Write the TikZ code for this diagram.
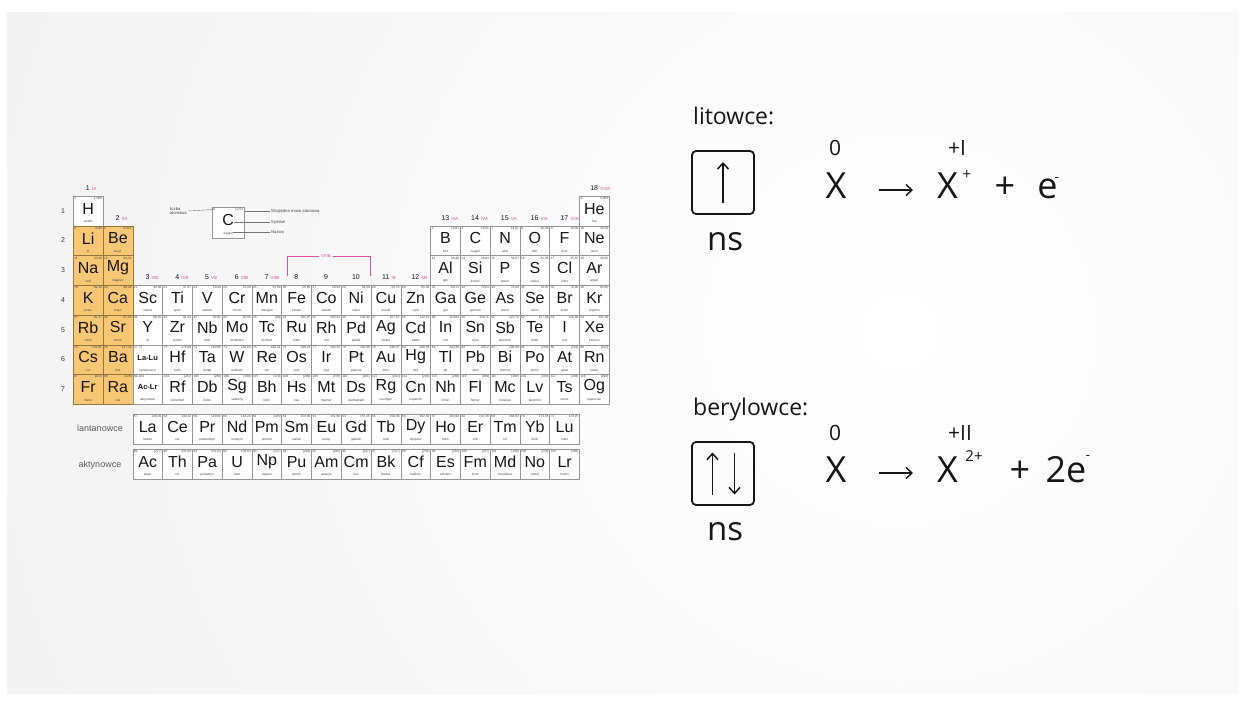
\documentclass[tikz,border=0pt]{standalone}
\usepackage{fontspec}
\setmainfont{Open Sans}
\newfontfamily\tabfont{Liberation Sans}
\usetikzlibrary{arrows.meta,calc}
\definecolor{bggray}{RGB}{236,236,236}
\definecolor{alk}{RGB}{247,199,115}
\definecolor{alkline}{RGB}{150,118,64}
\definecolor{grp}{RGB}{222,80,160}
\definecolor{cellline}{RGB}{150,150,150}
\definecolor{ink}{RGB}{22,22,22}
\tikzset{
  elcell/.style={draw=cellline, line width=0.5pt, fill=white, minimum width=29.78pt, minimum height=29.7pt, inner sep=0pt, anchor=north west},
  alkcell/.style={elcell, fill=alk, draw=alkline},
  elsym/.style={font=\tabfont\fontsize{16}{16}\selectfont, inner sep=0pt, text=ink},
  elsymb/.style={font=\tabfont\bfseries\fontsize{7.5}{7.5}\selectfont, inner sep=0pt, text=ink},
  elnum/.style={font=\tabfont\fontsize{3.2}{3.2}\selectfont, inner sep=0pt, text=ink!80},
  elname/.style={font=\tabfont\fontsize{3.2}{3.2}\selectfont, inner sep=0pt, text=ink!80},
  grpnum/.style={font=\tabfont\fontsize{7}{7}\selectfont, inner sep=0pt, text=ink, anchor=base},
  grprom/.style={font=\tabfont\fontsize{4.5}{4.5}\selectfont, inner sep=0pt, text=grp},
  rownum/.style={font=\tabfont\fontsize{7}{7}\selectfont, inner sep=0pt, text=ink!85},
  legtxt/.style={font=\tabfont\fontsize{4.2}{4.4}\selectfont, inner sep=0pt, text=ink!80},
  legline/.style={draw=ink!60, line width=0.4pt},
  ftxt/.style={font=\tabfont\fontsize{9}{9}\selectfont, inner sep=0pt, text=ink!70},
  lbltxt/.style={font=\fontsize{23}{23}\selectfont, inner sep=0pt, text=ink, anchor=base west},
  bigtxt/.style={font=\fontsize{36}{36}\selectfont, inner sep=0pt, text=ink, anchor=base},
  nstxt/.style={font=\fontsize{33}{33}\selectfont, inner sep=0pt, text=ink, anchor=base},
  oxtxt/.style={font=\fontsize{21}{21}\selectfont, inner sep=0pt, text=ink, anchor=base},
  suptxt/.style={font=\fontsize{15}{15}\selectfont, inner sep=0pt, text=ink},
  orbbox/.style={draw=ink, line width=1.8pt, rounded corners=4pt, minimum width=62pt, minimum height=63pt, inner sep=0pt},
  spinarr/.style={draw=ink, line width=1.5pt, -{Straight Barb[length=6pt,width=11pt,line width=1.5pt]}},
  reacarr/.style={draw=ink, line width=1.4pt, -{Straight Barb[length=6pt,width=11pt,line width=1.4pt]}},
}
\newcommand{\pelem}[7]{%
  \node[#3] (c-#5) at ({#1},{#2}) {};
  \node[elsym] (s-#5) at ([yshift=2.5pt]c-#5.center) {#5};
  \node[elnum,anchor=north west] (z-#5) at ([shift={(1.2pt,-1.2pt)}]c-#5.north west) {#4};
  \node[elnum,anchor=north east] (m-#5) at ([shift={(-1.2pt,-1.2pt)}]c-#5.north east) {#7};
  \node[elname] (n-#5) at ([yshift=4.5pt]c-#5.south) {#6};
}
\begin{document}
\begin{tikzpicture}[x=1pt,y=-1pt]
\useasboundingbox (0,0) rectangle (1245,706);
\fill[white] (0,0) rectangle (1245,706);
\begin{scope}
  \clip (7,13) rectangle (1238,693);
  \fill[bggray] (7,13) rectangle (1238,693);
  \shade[inner color=white, outer color=bggray] (900,330) circle (1500);
\end{scope}

% ---------- periodic table: main block ----------
\foreach \c/\r/\z/\s/\n/\m in {
 1/1/1/H/wodór/{1,008}, 18/1/2/He/hel/{4,003},
 13/2/5/B/bor/{10,81}, 14/2/6/C/węgiel/{12,01}, 15/2/7/N/azot/{14,01}, 16/2/8/O/tlen/{16,00}, 17/2/9/F/fluor/{19,00}, 18/2/10/Ne/neon/{20,18},
 13/3/13/Al/glin/{26,98}, 14/3/14/Si/krzem/{28,09}, 15/3/15/P/fosfor/{30,97}, 16/3/16/S/siarka/{32,06}, 17/3/17/Cl/chlor/{35,45}, 18/3/18/Ar/argon/{39,95},
 3/4/21/Sc/skand/{44,96}, 4/4/22/Ti/tytan/{47,87}, 5/4/23/V/wanad/{50,94}, 6/4/24/Cr/chrom/{52,00}, 7/4/25/Mn/mangan/{54,94}, 8/4/26/Fe/żelazo/{55,85}, 9/4/27/Co/kobalt/{58,93}, 10/4/28/Ni/nikiel/{58,69}, 11/4/29/Cu/miedź/{63,55}, 12/4/30/Zn/cynk/{65,38}, 13/4/31/Ga/gal/{69,72}, 14/4/32/Ge/german/{72,63}, 15/4/33/As/arsen/{74,92}, 16/4/34/Se/selen/{78,97}, 17/4/35/Br/brom/{79,90}, 18/4/36/Kr/krypton/{83,80},
 3/5/39/Y/itr/{88,91}, 4/5/40/Zr/cyrkon/{91,22}, 5/5/41/Nb/niob/{92,91}, 6/5/42/Mo/molibden/{95,95}, 7/5/43/Tc/technet/[98], 8/5/44/Ru/ruten/{101,07}, 9/5/45/Rh/rod/{102,91}, 10/5/46/Pd/pallad/{106,42}, 11/5/47/Ag/srebro/{107,87}, 12/5/48/Cd/kadm/{112,41}, 13/5/49/In/ind/{114,82}, 14/5/50/Sn/cyna/{118,71}, 15/5/51/Sb/antymon/{121,76}, 16/5/52/Te/tellur/{127,60}, 17/5/53/I/jod/{126,90}, 18/5/54/Xe/ksenon/{131,29},
 4/6/72/Hf/hafn/{178,49}, 5/6/73/Ta/tantal/{180,95}, 6/6/74/W/wolfram/{183,84}, 7/6/75/Re/ren/{186,21}, 8/6/76/Os/osm/{190,23}, 9/6/77/Ir/iryd/{192,22}, 10/6/78/Pt/platyna/{195,08}, 11/6/79/Au/złoto/{196,97}, 12/6/80/Hg/rtęć/{200,59}, 13/6/81/Tl/tal/{204,38}, 14/6/82/Pb/ołów/{207,2}, 15/6/83/Bi/bizmut/{208,98}, 16/6/84/Po/polon/[209], 17/6/85/At/astat/[210], 18/6/86/Rn/radon/[222],
 4/7/104/Rf/rutherford/[267], 5/7/105/Db/dubn/[268], 6/7/106/Sg/seaborg/[269], 7/7/107/Bh/bohr/[270], 8/7/108/Hs/has/[269], 9/7/109/Mt/meitner/[278], 10/7/110/Ds/darmsztadt/[281], 11/7/111/Rg/roentgen/[282], 12/7/112/Cn/kopernik/[285], 13/7/113/Nh/nihon/[286], 14/7/114/Fl/flerow/[289], 15/7/115/Mc/moskow/[290], 16/7/116/Lv/liwermor/[293], 17/7/117/Ts/tenes/[294], 18/7/118/Og/oganeson/[294]}
{ \pelem{73+(\c-1)*29.78}{196+(\r-1)*29.7}{elcell}{\z}{\s}{\n}{\m} }

% alkali and alkaline-earth metals (highlighted)
\foreach \c/\r/\z/\s/\n/\m in {
 1/2/3/Li/lit/{6,94}, 2/2/4/Be/beryl/{9,012}, 1/3/11/Na/sód/{22,99}, 2/3/12/Mg/magnez/{24,31},
 1/4/19/K/potas/{39,10}, 2/4/20/Ca/wapń/{40,08}, 1/5/37/Rb/rubid/{85,47}, 2/5/38/Sr/stront/{87,62},
 1/6/55/Cs/cez/{132,91}, 2/6/56/Ba/bar/{137,33}, 1/7/87/Fr/frans/[223], 2/7/88/Ra/rad/[226]}
{ \pelem{73+(\c-1)*29.78}{196+(\r-1)*29.7}{alkcell}{\z}{\s}{\n}{\m} }

% La-Lu and Ac-Lr placeholders
\foreach \r/\z/\s/\n in {6/57-71/La-Lu/lantanowce, 7/89-103/Ac-Lr/aktynowce}{
  \node[elcell] (c-\s) at ({73+2*29.78},{196+(\r-1)*29.7}) {};
  \node[elsymb] (s-\s) at ([yshift=2pt]c-\s.center) {\s};
  \node[elnum,anchor=north west] (z-\s) at ([shift={(1.2pt,-1.2pt)}]c-\s.north west) {\z};
  \node[elname] (n-\s) at ([yshift=4.5pt]c-\s.south) {\n};
}

% f-block
\foreach \c/\z/\s/\n/\m in {
 3/57/La/lantan/{138,91}, 4/58/Ce/cer/{140,12}, 5/59/Pr/prazeodym/{140,91}, 6/60/Nd/neodym/{144,24}, 7/61/Pm/promet/[145], 8/62/Sm/samar/{150,36}, 9/63/Eu/europ/{151,96}, 10/64/Gd/gadolin/{157,25}, 11/65/Tb/terb/{158,93}, 12/66/Dy/dysproz/{162,50}, 13/67/Ho/holm/{164,93}, 14/68/Er/erb/{167,26}, 15/69/Tm/tul/{168,93}, 16/70/Yb/iterb/{173,05}, 17/71/Lu/lutet/{174,97}}
{ \pelem{73+(\c-1)*29.78}{414}{elcell}{\z}{\s}{\n}{\m} }
\foreach \c/\z/\s/\n/\m in {
 3/89/Ac/aktyn/[227], 4/90/Th/tor/{232,04}, 5/91/Pa/protaktyn/{231,04}, 6/92/U/uran/{238,03}, 7/93/Np/neptun/[237], 8/94/Pu/pluton/[244], 9/95/Am/ameryk/[243], 10/96/Cm/kiur/[247], 11/97/Bk/berkel/[247], 12/98/Cf/kaliforn/[251], 13/99/Es/einstein/[252], 14/100/Fm/ferm/[257], 15/101/Md/mendelew/[258], 16/102/No/nobel/[259], 17/103/Lr/lorens/[266]}
{ \pelem{73+(\c-1)*29.78}{449}{elcell}{\z}{\s}{\n}{\m} }

\node[ftxt] (lanlbl) at (100,428) {lantanowce};
\node[ftxt] (aktlbl) at (100,465) {aktynowce};

% row (period) numbers
\foreach \r in {1,...,7} \node[rownum] (row-\r) at (63,{196+(\r-0.5)*29.7}) {\r};

% group numbers
\foreach \c/\y/\g/\gr in {1/190/1/IA, 2/220/2/IIA, 3/279/3/IIIB, 4/279/4/IVB, 5/279/5/VB, 6/279/6/VIB, 7/279/7/VIIB, 11/279/11/IB, 12/279/12/IIB, 13/220/13/IIIA, 14/220/14/IVA, 15/220/15/VA, 16/220/16/VIA, 17/220/17/VIIA, 18/190/18/VIIIA}{
  \node[grpnum] (g-\g) at ({73+(\c-0.5)*29.78},\y) {\g};
  \node[grprom, anchor=base west] (gr-\g) at ([xshift=1.8pt]g-\g.base east) {\gr};
}
\foreach \c/\g in {8/8, 9/9, 10/10}
  \node[grpnum] (g-\g) at ({73+(\c-0.5)*29.78},279) {\g};

% VIIIB bracket
\node[grprom] (viiib) at (326,256) {VIIIB};
\coordinate (bl) at (287,276);
\coordinate (br) at (370,276);
\draw[grp, line width=0.6pt] (bl) |- ([xshift=-1.5pt]viiib.west);
\draw[grp, line width=0.6pt] (br) |- ([xshift=1.5pt]viiib.east);

% legend
\node[elcell, minimum width=32pt, minimum height=31pt] (leg) at (212,207) {};
\node[elsym] (leg-s) at ([yshift=2.5pt]leg.center) {C};
\node[elnum,anchor=north west] (leg-z) at ([shift={(1.2pt,-1.2pt)}]leg.north west) {6};
\node[elnum,anchor=north east] (leg-m) at ([shift={(-1.2pt,-1.2pt)}]leg.north east) {12,01};
\node[elname] (leg-n) at ([yshift=4.5pt]leg.south) {węgiel};
\node[legtxt, anchor=east, align=left] (lab-z) at (187,211) {liczba\\atomowa};
\node[legtxt, anchor=west] (lab-m) at (271,211) {Względna masa atomowa};
\node[legtxt, anchor=west] (lab-s) at (271,222) {Symbol};
\node[legtxt, anchor=west] (lab-n) at (271,232) {Nazwa};
\draw[legline] ([xshift=1pt]lab-z.east) -- (leg-z.west);
\draw[legline] ([xshift=-1pt]lab-m.west) -- (lab-m.west -| leg.east);
\draw[legline] ([xshift=-1pt]lab-s.west) -- (lab-s.west -| leg-s.east);
\draw[legline] ([xshift=-1pt]lab-n.west) -- (lab-n.west -| leg-n.east);

% ---------- litowce ----------
\node[lbltxt] (lit) at (693,125) {litowce:};
\node[orbbox] (box1) at (723,182.5) {};
\coordinate (u1s) at ([yshift=-20.5pt]box1.center);
\coordinate (u1e) at ([yshift=20.5pt]box1.center);
\draw[spinarr] (u1s) -- (u1e);
\node[nstxt] (ns1) at (725,250) {ns};
\node[oxtxt] (o1a) at (835,155.5) {0};
\node[oxtxt] (o1b) at (957,155.5) {+I};
\node[bigtxt] (x1a) at (836,198) {X};
\coordinate (a1s) at (879,190);
\coordinate (a1e) at (913,190);
\draw[reacarr] (a1s) -- (a1e);
\node[bigtxt] (x1b) at (947.5,198) {X};
\node[suptxt] (q1) at (967,175) {+};
\node[bigtxt] (pl1) at (1005,198) {+};
\node[bigtxt] (e1) at (1047.5,198) {e};
\node[suptxt, font=\fontsize{13}{13}\selectfont] (m1) at (1057,180) {-};

% ---------- berylowce ----------
\node[lbltxt] (ber) at (693,415) {berylowce:};
\node[orbbox] (box2) at (723,473.5) {};
\coordinate (u2s) at ([shift={(-10.5pt,-21pt)}]box2.center);
\coordinate (u2e) at ([shift={(-10.5pt,21pt)}]box2.center);
\coordinate (d2s) at ([shift={(11.5pt,21pt)}]box2.center);
\coordinate (d2e) at ([shift={(11.5pt,-21pt)}]box2.center);
\draw[spinarr] (u2s) -- (u2e);
\draw[spinarr] (d2s) -- (d2e);
\node[nstxt] (ns2) at (725,540) {ns};
\node[oxtxt] (o2a) at (835,440.5) {0};
\node[oxtxt] (o2b) at (960,440.5) {+II};
\node[bigtxt] (x2a) at (836,482) {X};
\coordinate (a2s) at (879,473);
\coordinate (a2e) at (913,473);
\draw[reacarr] (a2s) -- (a2e);
\node[bigtxt] (x2b) at (947.5,482) {X};
\node[suptxt] (q2) at (974,456) {2+};
\node[bigtxt] (pl2) at (1020,482) {+};
\node[bigtxt] (e2) at (1066,482) {2e};
\node[suptxt, font=\fontsize{13}{13}\selectfont] (m2) at (1088,458) {-};
\end{tikzpicture}
\end{document}
